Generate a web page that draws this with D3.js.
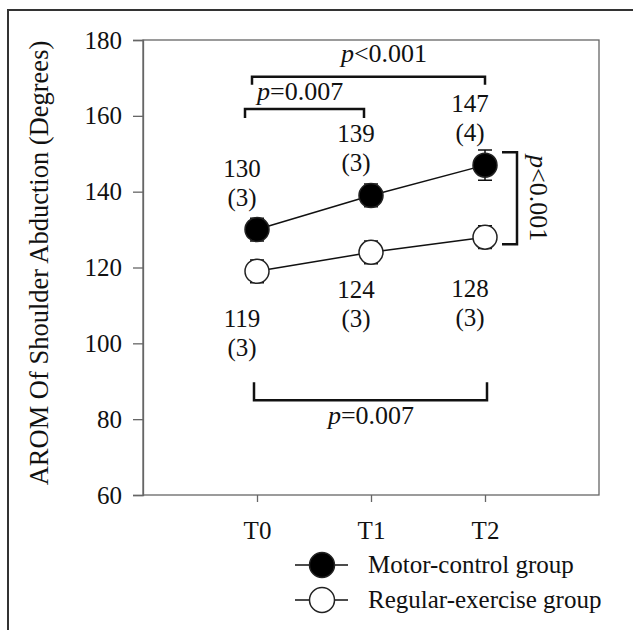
<!DOCTYPE html>
<html>
<head>
<meta charset="utf-8">
<script src="https://cdn.jsdelivr.net/npm/d3@7"></script>
<style>
  body { margin: 0; background: #fff; }
</style>
</head>
<body>
<div id="chart"></div>
<script>
// data
var timePoints = ["T0", "T1", "T2"];
var motorMeans = [130, 139, 147];
var motorSE = [3, 3, 4];
var regularMeans = [119, 124, 128];
var regularSE = [3, 3, 3];
var yTicks = [60, 80, 100, 120, 140, 160, 180];
var seriesNames = ["Motor-control group", "Regular-exercise group"];

var FONT = "'Liberation Serif', 'Times New Roman', Tinos, 'DejaVu Serif', serif";
var FS = 25;
var width = 633, height = 630;
var plot = { left: 143, right: 599, top: 40, bottom: 495 };

var svg = d3.select("#chart")
    .append("svg")
    .attr("width", width)
    .attr("height", height)
    .attr("font-family", FONT);

// outer figure frame (runs off the right / bottom edge)
svg.append("rect")
    .attr("x", 8).attr("y", 10)
    .attr("width", 640).attr("height", 640)
    .attr("fill", "none")
    .attr("stroke", "#333")
    .attr("stroke-width", 2);

var x = d3.scaleLinear().domain([0, 4]).range([plot.left, plot.right]);
var y = d3.scaleLinear().domain([60, 180]).range([plot.bottom, plot.top]);

// plot box
svg.append("rect")
    .attr("x", plot.left).attr("y", plot.top)
    .attr("width", plot.right - plot.left)
    .attr("height", plot.bottom - plot.top)
    .attr("fill", "none")
    .attr("stroke", "#666")
    .attr("stroke-width", 1.3);

// Y axis
var yAxis = svg.append("g")
    .attr("transform", "translate(" + plot.left + ",0)")
    .call(d3.axisLeft(y).tickValues(yTicks).tickSize(10).tickPadding(11));
yAxis.attr("font-family", FONT).attr("font-size", FS);
yAxis.select(".domain").attr("stroke", "#666").attr("stroke-width", 1.3);
yAxis.selectAll(".tick line").attr("stroke", "#666").attr("stroke-width", 1.3);
yAxis.selectAll(".tick text").attr("fill", "#111");

// X axis
var xAxis = svg.append("g")
    .attr("transform", "translate(0," + plot.bottom + ")")
    .call(d3.axisBottom(x).tickValues([1, 2, 3])
        .tickFormat(function (d) { return timePoints[d - 1]; })
        .tickSize(7).tickPadding(19));
xAxis.attr("font-family", FONT).attr("font-size", FS);
xAxis.select(".domain").remove();
xAxis.selectAll(".tick line").attr("stroke", "#666").attr("stroke-width", 1.3);
xAxis.selectAll(".tick text").attr("fill", "#111");

// y axis title
svg.append("text")
    .attr("transform", "translate(48,263) rotate(-90)")
    .attr("text-anchor", "middle")
    .attr("font-size", 26.5)
    .attr("fill", "#111")
    .text("AROM Of Shoulder Abduction (Degrees)");

function seriesData(means, se) {
    return means.map(function (m, i) { return { t: i + 1, v: m, se: se[i] }; });
}
var motor = seriesData(motorMeans, motorSE);
var regular = seriesData(regularMeans, regularSE);

var line = d3.line()
    .x(function (d) { return x(d.t); })
    .y(function (d) { return y(d.v); });

function drawSeries(data, fill) {
    svg.append("path")
        .datum(data)
        .attr("fill", "none")
        .attr("stroke", "#111")
        .attr("stroke-width", 1.5)
        .attr("d", line);
    var g = svg.append("g");
    // error bars
    g.selectAll(".eb").data(data).enter().append("path")
        .attr("fill", "none")
        .attr("stroke", "#111")
        .attr("stroke-width", 1.5)
        .attr("d", function (d) {
            var cx = x(d.t), y1 = y(d.v + d.se), y2 = y(d.v - d.se);
            return "M" + (cx - 7) + "," + y1 + "H" + (cx + 7) +
                "M" + cx + "," + y1 + "V" + y2 +
                "M" + (cx - 7) + "," + y2 + "H" + (cx + 7);
        });
    g.selectAll("circle").data(data).enter().append("circle")
        .attr("cx", function (d) { return x(d.t); })
        .attr("cy", function (d) { return y(d.v); })
        .attr("r", 12)
        .attr("fill", fill)
        .attr("stroke", "#222")
        .attr("stroke-width", 1.5);
}
drawSeries(regular, "#fff");
drawSeries(motor, "#000");

// value labels
var lblX = -15;
function label(px, py, str) {
    svg.append("text").attr("x", px).attr("y", py)
        .attr("text-anchor", "middle").attr("font-size", FS)
        .attr("fill", "#111").text(str);
}
motor.forEach(function (d) {
    label(x(d.t) + lblX, y(d.v) - 53, d.v);
    label(x(d.t) + lblX, y(d.v) - 24, "(" + d.se + ")");
});
var lowerOffsets = [56, 46, 60];
regular.forEach(function (d, i) {
    var by = y(d.v) + lowerOffsets[i];
    label(x(d.t) + lblX, by, d.v);
    label(x(d.t) + lblX, by + 29, "(" + d.se + ")");
});

// significance brackets
function pLabel(sel, rel, val) {
    sel.attr("font-size", 26).attr("fill", "#111");
    sel.append("tspan").attr("font-style", "italic").text("p");
    sel.append("tspan").text(rel + val);
}
function hBracket(x1, x2, by, tick) {
    svg.append("path")
        .attr("fill", "none").attr("stroke", "#111").attr("stroke-width", 2.5)
        .attr("d", "M" + x1 + "," + (by + tick) + "V" + by + "H" + x2 + "V" + (by + tick));
}
// T0 vs T2 (motor)
hBracket(x(1) - 5, x(3), y(170.3), 8);
pLabel(svg.append("text").attr("x", x(2) + 13).attr("y", 62)
    .attr("text-anchor", "middle"), "<", "0.001");
// T0 vs T1 (motor)
hBracket(x(1) - 12, x(2) - 7, y(161.8), 9);
pLabel(svg.append("text").attr("x", x(1)).attr("y", 100)
    .attr("text-anchor", "start"), "=", "0.007");
// T0 vs T2 (regular)
hBracket(x(1) - 3, x(3) + 2, y(85), -18);
pLabel(svg.append("text").attr("x", x(2)).attr("y", 424)
    .attr("text-anchor", "middle"), "=", "0.007");
// between groups at T2
var bx = x(3) + 32;
svg.append("path")
    .attr("fill", "none").attr("stroke", "#111").attr("stroke-width", 2.5)
    .attr("d", "M" + (bx - 15) + "," + (y(147) - 13) + "H" + bx +
        "V" + (y(128) + 7) + "H" + (bx - 15));
pLabel(svg.append("text")
    .attr("transform", "translate(" + (bx + 13) + "," + ((y(147) - 13 + y(128) + 7) / 2) + ") rotate(90)")
    .attr("text-anchor", "middle"), "<", "0.001");

// legend
var legend = svg.append("g").attr("transform", "translate(322,565)");
seriesNames.forEach(function (name, i) {
    var g = legend.append("g").attr("transform", "translate(0," + (i * 35) + ")");
    g.append("line").attr("x1", -27).attr("x2", 26)
        .attr("stroke", "#111").attr("stroke-width", 1.5);
    g.append("circle").attr("r", 12.5)
        .attr("fill", i === 0 ? "#000" : "#fff")
        .attr("stroke", "#222").attr("stroke-width", 1.5);
    g.append("text").attr("x", 46).attr("y", 8)
        .attr("font-size", FS).attr("fill", "#111").text(name);
});
</script>
</body>
</html>
